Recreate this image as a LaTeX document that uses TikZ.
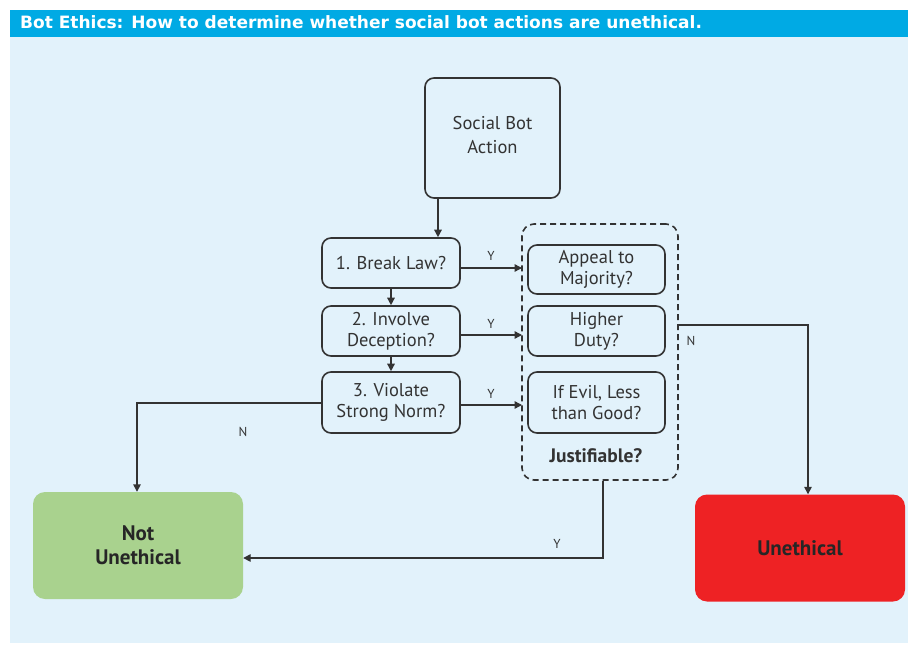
\documentclass[tikz,border=0pt]{standalone}
\usepackage{fontspec}
\setmainfont{PT Sans}
\newfontfamily\titlefont{DejaVu Sans}
\usetikzlibrary{arrows.meta,positioning}
\definecolor{panel}{HTML}{E2F2FB}
\definecolor{titlebar}{HTML}{00AAE4}
\definecolor{okgreen}{HTML}{A9D28E}
\definecolor{badred}{HTML}{EE2224}
\definecolor{ink}{HTML}{333333}
\tikzset{
  qbox/.style={draw=ink, line width=1.6pt, rounded corners=9pt, align=center, font=\fontsize{18.5}{21}\selectfont, text=ink, inner sep=0pt},
  endbox/.style={rounded corners=12pt, align=center, font=\bfseries\fontsize{21}{24}\selectfont, text=black!85, inner sep=0pt},
  conn/.style={draw=ink, line width=1.4pt, -{Triangle[length=7.5pt,width=7.5pt]}},
  lbl/.style={font=\fontsize{13}{15}\selectfont, text=ink},
}
\begin{document}
\begin{tikzpicture}[x=1pt,y=-1pt]
\useasboundingbox (0,0) rectangle (910,647);
\fill[white] (0,0) rectangle (910,647);
\fill[panel] (10,37) rectangle (908,643);
\fill[titlebar] (10,10) rectangle (908,37);
\node[anchor=west, text=white, font=\titlefont\bfseries\fontsize{17}{19}\selectfont, inner sep=0pt] (title) at (20,22.5) {Bot Ethics: How to determine whether social bot actions are unethical.};

\node[draw=ink, line width=1.6pt, rounded corners=9pt, minimum width=135pt, minimum height=120pt, inner sep=0pt] (sba) at (492.5,138) {};
\node[align=center, font=\fontsize{18.5}{24}\selectfont, text=ink, inner sep=0pt] (sbat) at (492.5,135) {Social Bot\\Action};

\node[qbox, minimum width=138pt, minimum height=50pt] (q1) at (391,263) {1. Break Law?};
\node[qbox, minimum width=138pt, minimum height=50pt] (q2) at (391,331) {2. Involve\\Deception?};
\node[qbox, minimum width=138pt, minimum height=61pt] (q3) at (391,402.5) {3. Violate\\Strong Norm?};

\node[draw=ink, line width=1.6pt, dashed, dash pattern=on 6pt off 4pt, rounded corners=12pt, minimum width=156pt, minimum height=256pt, inner sep=0pt] (jbox) at (600,352) {};
\node[qbox, minimum width=137pt, minimum height=49pt] (j1) at (596.5,269.5) {Appeal to\\Majority?};
\node[qbox, minimum width=137pt, minimum height=50pt] (j2) at (596.5,331) {Higher\\Duty?};
\node[qbox, minimum width=137pt, minimum height=61pt] (j3) at (596.5,402.5) {If Evil, Less\\than Good?};
\node[font=\bfseries\fontsize{19.5}{22}\selectfont, text=ink] (jt) at (596,456) {Justifiable?};

\node[endbox, fill=okgreen, minimum width=210pt, minimum height=107pt] (ne) at (138,545.5) {Not\\Unethical};
\node[endbox, fill=badred, minimum width=210pt, minimum height=107pt] (ue) at (800,548) {Unethical};

\draw[conn] (sba.south -| 438,0) -- (q1.north -| 438,0);
\draw[conn] (q1) -- (q2);
\draw[conn] (q2) -- (q3);

\coordinate (e1) at (522,268);
\coordinate (e2) at (522,335);
\coordinate (e3) at (522,405);
\draw[conn] (q1.east |- e1) -- (e1);
\draw[conn] (q2.east |- e2) -- (e2);
\draw[conn] (q3.east |- e3) -- (e3);
\node[lbl] (y1) at (491,256) {Y};
\node[lbl] (y2) at (491,324) {Y};
\node[lbl] (y3) at (491,394) {Y};

\coordinate (nr) at (808,325);
\draw[conn] (jbox.east |- nr) -- (nr) -- (ue.north -| nr);
\node[lbl] (n1) at (691,341) {N};

\coordinate (nl) at (137,403);
\draw[conn] (q3.west |- nl) -- (nl) -- (ne.north -| nl);
\node[lbl] (n2) at (243,432) {N};

\coordinate (yb) at (603,558);
\draw[conn] (jbox.south -| yb) -- (yb) -- (ne.east |- yb);
\node[lbl] (y4) at (557,544) {Y};
\end{tikzpicture}
\end{document}
